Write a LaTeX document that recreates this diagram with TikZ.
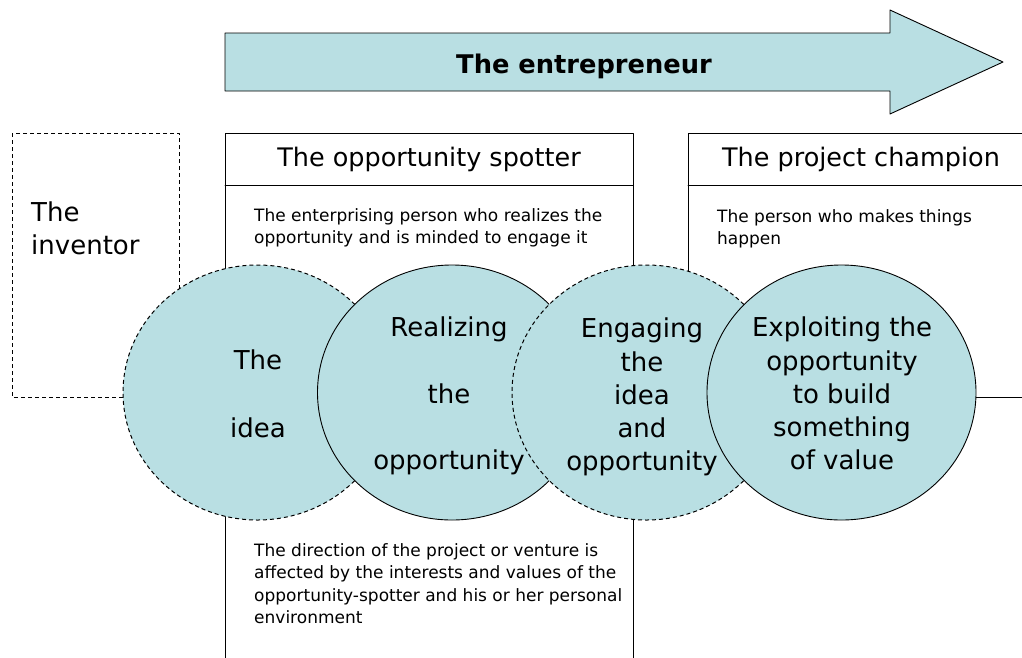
\documentclass[tikz,border=0pt]{standalone}
\usepackage{fontspec}
\setmainfont{DejaVu Sans}
\usepackage{pgf,tikz}
\usepackage{color}
\definecolor{bubble}{RGB}{185,223,227}

\begin{document}
\begin{tikzpicture}[line cap=round,line join=round,x=1pt,y=-1pt,
  frame/.style={line width=0.9pt},
  ball/.style={line width=0.9pt,fill=bubble},
  dashball/.style={ball,line cap=butt,line width=1pt,dash pattern=on 4pt off 3pt},
  balltext/.style={font=\fontsize{26}{#1}\selectfont,align=center,inner sep=0pt,anchor=north},
  desc/.style={font=\fontsize{17}{#1}\selectfont,align=left,inner sep=0pt,anchor=north west}]
\useasboundingbox (0,0) rectangle (1022,657);
\draw [frame,fill=bubble] (225,33)--(890,33)--(890,10)--(1003,62)--(890,114)--(890,91)--(225,91)--cycle;
\node [font=\fontsize{25.7}{30}\selectfont\bfseries,anchor=base] (entre) at (584,73) {The entrepreneur};
\draw [frame,line cap=butt,dash pattern=on 4pt off 3pt] (12,133) rectangle (179,397);
\draw [frame] (225,133) rectangle (633,680);
\draw [frame] (225,185)--(633,185);
\draw [frame] (688,133) rectangle (1034,397);
\draw [frame] (688,185)--(1034,185);
\node [font=\fontsize{26}{33}\selectfont,align=left,inner sep=0pt,anchor=north west] (inventor) at (31,202) {The\\inventor};
\node [font=\fontsize{25.5}{30}\selectfont,anchor=base] (spotter) at (429,166) {The opportunity spotter};
\node [font=\fontsize{25.5}{30}\selectfont,anchor=base] (champion) at (861,166) {The project champion};
\node [desc=22] (spotdesc) at (254,208.5) {The enterprising person who realizes the\\opportunity and is minded to engage it};
\node [desc=22] (champdesc) at (717,209) {The person who makes things\\happen};
\node [desc=22.5] (direction) at (254,543) {The direction of the project or venture is\\affected by the interests and values of the\\opportunity-spotter and his or her personal\\environment};
\draw [dashball] (257.5,392.5) ellipse [x radius=134.5pt, y radius=127.5pt];
\draw [ball] (452,392.5) ellipse [x radius=134.5pt, y radius=127.5pt];
\draw [dashball] (646.5,392.5) ellipse [x radius=134.5pt, y radius=127.5pt];
\draw [ball] (841.5,392.5) ellipse [x radius=134.5pt, y radius=127.5pt];
\node [balltext=68] (idea) at (258,350) {The\\idea};
\node [balltext=66.5] (realize) at (449,317) {Realizing\\the\\opportunity};
\node [balltext=33.25] (engage) at (642,318) {Engaging\\the\\idea\\and\\opportunity};
\node [balltext=33.25] (exploit) at (842,317) {Exploiting the\\opportunity\\to build\\something\\of value};
\end{tikzpicture}
\end{document}
